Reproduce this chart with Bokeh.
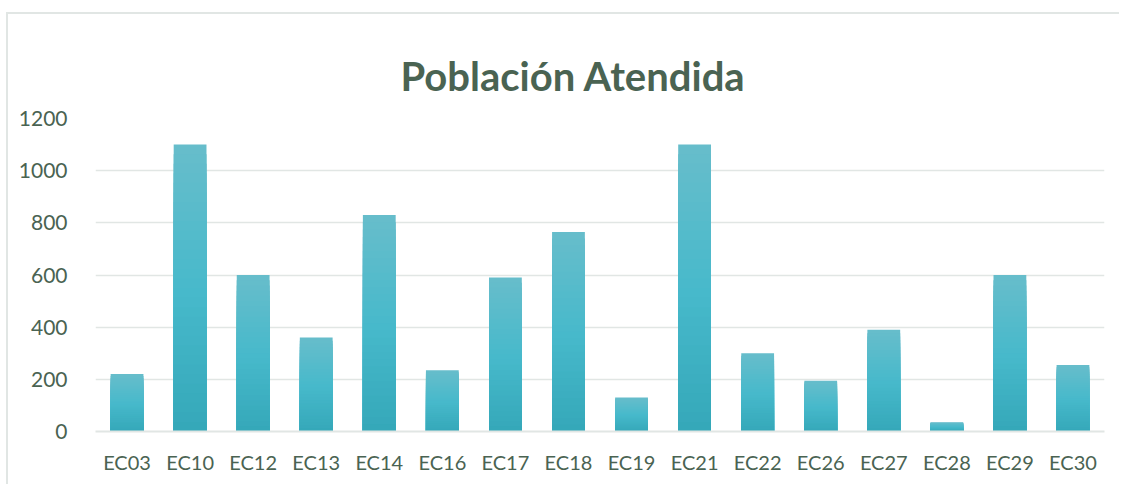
from bokeh.plotting import figure
from bokeh.models import FactorRange, Range1d, Title, ColumnDataSource
from bokeh.embed import file_html
from bokeh.resources import INLINE

categories = ["EC03", "EC10", "EC12", "EC13", "EC14", "EC16", "EC17", "EC18",
              "EC19", "EC21", "EC22", "EC26", "EC27", "EC28", "EC29", "EC30"]
values = [220, 1100, 600, 360, 830, 235, 590, 765, 130, 1100, 300, 195, 390, 35, 600, 255]
y_ticks = [0, 200, 400, 600, 800, 1000, 1200]
title_text = "Población Atendida"

TEXT = "#4a6352"
GRID = "#e1e6e4"

p = figure(x_range=FactorRange(*categories, range_padding=0),
           y_range=Range1d(0, 1200),
           width=1113, height=472, output_backend="svg", toolbar_location=None,
           min_border_left=87, min_border_right=17, min_border_top=104,
           min_border_bottom=55)
p.title = Title(text=title_text, text_font="Lato", text_font_style="bold",
                text_font_size="40px", text_color=TEXT, align="left", offset=305,
                standoff=37)

# gradient bars: stacked full bars from bottom, colours light at top
def lerp(c1, c2, t):
    a = [int(c1[i:i + 2], 16) for i in (1, 3, 5)]
    b = [int(c2[i:i + 2], 16) for i in (1, 3, 5)]
    return "#%02x%02x%02x" % tuple(round(a[k] + (b[k] - a[k]) * t) for k in range(3))

bottom_c, mid_c, top_c = "#34a7b8", "#47b9cb", "#66bdcb"
n = 30
for i in range(n, 0, -1):
    f = i / n
    col = lerp(bottom_c, mid_c, f / 0.5) if f <= 0.5 else lerp(mid_c, top_c, (f - 0.5) / 0.5)
    src = ColumnDataSource(dict(x=categories, top=[v * f for v in values]))
    p.vbar(x="x", top="top", bottom=0, width=0.52, source=src,
           fill_color=col, line_color=None)

p.xgrid.grid_line_color = None
p.ygrid.grid_line_color = GRID
p.ygrid.grid_line_width = 1.6
p.yaxis.ticker = y_ticks
p.yaxis.axis_line_color = None
p.xaxis.axis_line_color = GRID
p.xaxis.axis_line_width = 2
for ax in (p.xaxis, p.yaxis):
    ax.major_tick_line_color = None
    ax.minor_tick_line_color = None
    ax.major_label_text_font = "Lato"
    ax.major_label_text_color = TEXT
p.yaxis.major_label_text_font_size = "21px"
p.xaxis.major_label_text_font_size = "20px"
p.yaxis.major_label_standoff = 22
p.xaxis.major_label_standoff = 12
p.outline_line_color = None
p.styles = {"margin-left": "6px", "margin-top": "12px",
            "border-left": "2px solid #e1e6e4", "border-top": "2px solid #e1e6e4"}

open("out.html", "w").write(file_html(p, INLINE))
